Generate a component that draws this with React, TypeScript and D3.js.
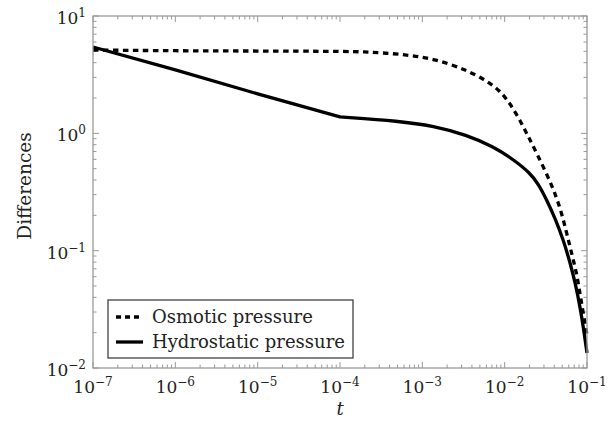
import React from "react";
import * as d3 from "d3";

// (log-log axes)
const osmoticT = [1e-7, 1e-6, 1e-5, 1e-4, 2.1e-4, 5.36e-4, 1.36e-3, 3.46e-3, 6.05e-3, 8.78e-3, 0.0116, 0.0153, 0.0194, 0.0245, 0.0324, 0.041, 0.0493, 0.0566, 0.0651, 0.0749, 0.0822, 0.0901, 0.1];
const osmoticValues = [5.13, 5.05, 5.03, 5.0, 4.95, 4.74, 4.36, 3.47, 2.8, 2.3, 1.8, 1.3, 0.936, 0.676, 0.45, 0.308, 0.208, 0.141, 0.095, 0.064, 0.043, 0.0294, 0.019];

// straight (log-log) part up to the kink at 1e-4, then the curved part
const hydroLinearT = [1e-7, 1e-6, 1e-5, 1e-4];
const hydroLinearValues = [5.44, 3.47, 2.17, 1.38];
const hydroCurveT = [1e-4, 5.36e-4, 1.36e-3, 3.46e-3, 7.28e-3, 0.0127, 0.0203, 0.0257, 0.0325, 0.041, 0.0517, 0.0626, 0.0722, 0.0822, 0.0901, 0.1];
const hydroCurveValues = [1.38, 1.27, 1.155, 0.97, 0.77, 0.6, 0.46, 0.37, 0.27, 0.189, 0.123, 0.078, 0.0527, 0.0333, 0.0225, 0.0134];

const xExponents = [-7, -6, -5, -4, -3, -2, -1];
const yExponents = [-2, -1, 0, 1];
const legendLabels = ["Osmotic pressure", "Hydrostatic pressure"];

const width = 612;
const height = 422;
const margin = { left: 93, right: 25, top: 16, bottom: 54 };
const font = "DejaVu Serif";
const frameColor = "#9a9a9a";
const textColor = "#222";

export default function App() {
  const x = d3
    .scaleLog()
    .domain([1e-7, 1e-1])
    .range([margin.left, width - margin.right]);
  const y = d3
    .scaleLog()
    .domain([1e-2, 1e1])
    .range([height - margin.bottom, margin.top]);

  const smooth = d3
    .line<[number, number]>()
    .x((d) => x(d[0]))
    .y((d) => y(d[1]))
    .curve(d3.curveBasis);
  const straight = d3
    .line<[number, number]>()
    .x((d) => x(d[0]))
    .y((d) => y(d[1]));

  const zip = (ts: number[], vs: number[]) => ts.map((t, i) => [t, vs[i]] as [number, number]);
  const osmotic = zip(osmoticT, osmoticValues);
  const hydroA = zip(hydroLinearT, hydroLinearValues);
  const hydroB = zip(hydroCurveT, hydroCurveValues);
  // join both parts into one path so the kink stays sharp
  const hydroPath = (straight(hydroA) ?? "") + (smooth(hydroB) ?? "").replace(/^M[^A-Za-z]*/, "");

  const [x0, x1] = x.range();
  const [y0, y1] = y.range(); // y0 bottom, y1 top

  // minor ticks 2..9 in every decade
  const minorX: number[] = [];
  xExponents.slice(0, -1).forEach((e) => {
    for (let k = 2; k <= 9; k++) minorX.push(k * Math.pow(10, e));
  });
  const minorY: number[] = [];
  yExponents.slice(0, -1).forEach((e) => {
    for (let k = 2; k <= 9; k++) minorY.push(k * Math.pow(10, e));
  });

  const major = 6;
  const minor = 3.5;

  const lx = 108;
  const ly = 300;
  const lw = 245;
  const lh = 58;

  const sup = (e: number) => (e < 0 ? "\u2212" + Math.abs(e) : String(e));

  return (
    <svg width={width} height={height} style={{ position: "absolute", left: 0, top: 0, background: "#fff" }} fontFamily={font}>
      <rect x={0} y={0} width={width} height={height} fill="#fff" />

      {/* ticks, mirrored on all four sides */}
      <g stroke={frameColor} strokeWidth={1}>
        {xExponents.map((e) => {
          const px = x(Math.pow(10, e));
          return (
            <g key={"xM" + e}>
              <line x1={px} x2={px} y1={y0} y2={y0 - major} />
              <line x1={px} x2={px} y1={y1} y2={y1 + major} />
            </g>
          );
        })}
        {minorX.map((v, i) => {
          const px = x(v);
          return (
            <g key={"xm" + i}>
              <line x1={px} x2={px} y1={y0} y2={y0 - minor} />
              <line x1={px} x2={px} y1={y1} y2={y1 + minor} />
            </g>
          );
        })}
        {yExponents.map((e) => {
          const py = y(Math.pow(10, e));
          return (
            <g key={"yM" + e}>
              <line x1={x0} x2={x0 + major} y1={py} y2={py} />
              <line x1={x1} x2={x1 - major} y1={py} y2={py} />
            </g>
          );
        })}
        {minorY.map((v, i) => {
          const py = y(v);
          return (
            <g key={"ym" + i}>
              <line x1={x0} x2={x0 + minor} y1={py} y2={py} />
              <line x1={x1} x2={x1 - minor} y1={py} y2={py} />
            </g>
          );
        })}
      </g>

      <path d={smooth(osmotic) ?? ""} fill="none" stroke="#000" strokeWidth={3.3} strokeDasharray="5.5 4.5" />
      <path d={hydroPath} fill="none" stroke="#000" strokeWidth={3.3} strokeLinejoin="round" />

      <rect x={x0} y={y1} width={x1 - x0} height={y0 - y1} fill="none" stroke={frameColor} strokeWidth={1.3} />

      {/* tick labels */}
      <g fill={textColor} fontSize={17}>
        {xExponents.map((e) => (
          <text key={"xl" + e} x={x(Math.pow(10, e))} y={393} textAnchor="middle">
            10
            <tspan fontSize={12} dy={-7}>
              {sup(e)}
            </tspan>
          </text>
        ))}
        {yExponents.map((e) => (
          <text key={"yl" + e} x={86} y={y(Math.pow(10, e)) + 8} textAnchor="end">
            10
            <tspan fontSize={12} dy={-7}>
              {sup(e)}
            </tspan>
          </text>
        ))}
      </g>

      {/* axis titles */}
      <text x={340} y={415} fontSize={18} fontStyle="italic" fill={textColor} textAnchor="middle">
        t
      </text>
      <text
        transform={`translate(31, ${(y0 + y1) / 2 - 6}) rotate(-90)`}
        fontSize={18.5}
        fill={textColor}
        textAnchor="middle"
      >
        Differences
      </text>

      {/* legend */}
      <rect x={lx} y={ly} width={lw} height={lh} fill="#fff" stroke="#333" strokeWidth={1.2} />
      <line x1={116} x2={143} y1={317} y2={317} stroke="#000" strokeWidth={3.3} strokeDasharray="5 4" />
      <line x1={116} x2={143} y1={342} y2={342} stroke="#000" strokeWidth={3.3} />
      <text x={152} y={323} fontSize={18} fill={textColor}>
        {legendLabels[0]}
      </text>
      <text x={152} y={348} fontSize={18} fill={textColor}>
        {legendLabels[1]}
      </text>
    </svg>
  );
}
